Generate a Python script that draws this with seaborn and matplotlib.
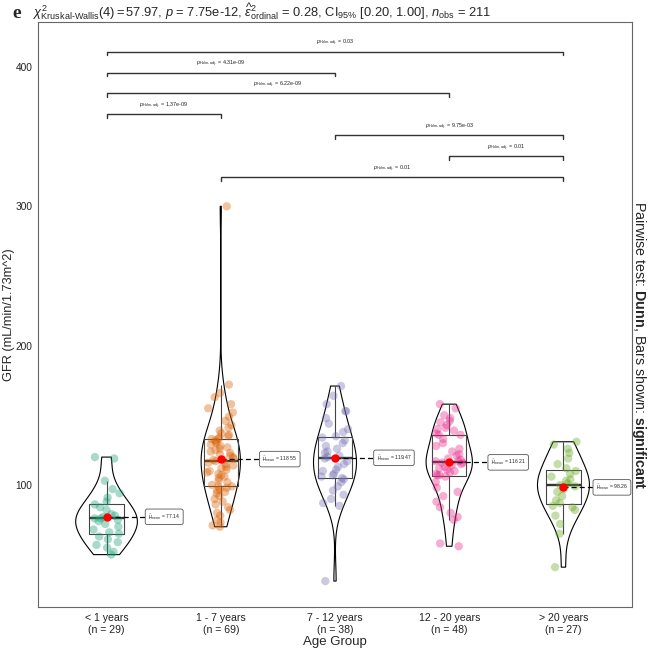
import numpy as np
import pandas as pd
import matplotlib
matplotlib.use("Agg")
import matplotlib.pyplot as plt
import seaborn as sns

# GFR values per age group
groups = ["< 1 years", "1 - 7 years", "7 - 12 years", "12 - 20 years", "> 20 years"]
gfr_lt1 = [120, 119, 103, 97, 94, 91, 88, 86, 84, 82, 79, 78, 77, 76, 76,
           75, 74, 72, 70, 68, 66, 65, 63, 61, 59, 57, 55, 52, 50]
gfr_1_7 = [70, 71, 73, 75, 78, 80, 82, 84, 86, 88, 90, 92, 94, 95, 96, 97, 98,
           99, 99, 100, 102, 103, 105, 106, 107, 108, 109, 110, 111, 112,
           113, 114, 115, 116, 117, 118, 118, 119, 120, 121, 122,
           123, 124, 125, 126, 127, 128, 129, 130, 131, 132,
           133, 133, 134, 135, 136, 137, 139, 141, 143, 146,
           149, 152, 155, 158, 163, 166, 172, 300]
gfr_7_12 = [31, 85, 87, 90, 93, 96, 99, 102, 104, 105, 106, 107, 108, 110, 111,
            113, 115, 117, 119, 120, 121, 123, 124, 126, 128, 130, 132, 134,
            135, 138, 140, 144, 148, 153, 153, 158, 164, 171]
gfr_12_20 = [56, 58, 75, 77, 80, 84, 88, 92, 95, 98,
             102, 106, 107, 107, 108, 109, 110, 111, 112, 113,
             114, 115, 116, 116, 117, 117, 118, 119, 121, 122,
             124, 126, 128, 130, 133, 136, 136, 137, 139, 140,
             141, 143, 145, 146, 148, 150, 155, 158]
gfr_gt20 = [41, 65, 72, 78, 82, 84, 85, 87, 89, 92, 95, 97, 99, 100, 101, 103,
            104, 106, 108, 110, 112, 115, 119, 123, 126, 129, 131]

# significant Dunn comparisons, bottom bracket first
pairs = [(1, 4), (3, 4), (2, 4), (0, 1), (0, 3), (0, 2), (0, 4)]
p_adj = ["0.01", "0.01", "9.75e-03", "1.37e-09", "6.22e-09", "4.31e-09", "0.03"]

title = (r"$\chi^2_{\mathrm{Kruskal\text{-}Wallis}}(4) = 57.97$, $\mathit{p}$ = 7.75e-12, "
         r"$\widehat{\epsilon}^2_{\mathrm{ordinal}}$ = 0.28, CI$_{95\%}$ [0.20, 1.00], "
         r"$\mathit{n}_{\mathrm{obs}}$ = 211")

all_vals = [gfr_lt1, gfr_1_7, gfr_7_12, gfr_12_20, gfr_gt20]
df = pd.DataFrame({
    "group": np.repeat(groups, [len(v) for v in all_vals]),
    "gfr": np.concatenate(all_vals),
})

sns.set_style("white")
plt.rcParams["font.family"] = ["Liberation Sans", "DejaVu Sans"]
plt.rcParams["mathtext.fontset"] = "custom"
plt.rcParams["mathtext.rm"] = "Liberation Sans"
plt.rcParams["mathtext.it"] = "Liberation Sans:italic"
plt.rcParams["mathtext.bf"] = "Liberation Sans:bold"
plt.rcParams["mathtext.sf"] = "Liberation Sans"

fig = plt.figure(figsize=(6.49, 6.49), dpi=100)
ax = fig.add_axes([38 / 649, 1 - 607 / 649, 594 / 649, 585 / 649])

sns.violinplot(data=df, x="group", y="gfr", order=groups, fill=False, inner=None,
               cut=0, width=0.54, color="black", linewidth=0.8,
               bw_method="silverman", density_norm="area", ax=ax)
sns.boxplot(data=df, x="group", y="gfr", order=groups, width=0.3, fill=False,
            color="#444444", showfliers=False, showcaps=False, linewidth=0.8,
            medianprops={"linewidth": 1.7, "color": "#333333"}, ax=ax)
np.random.seed(7)
sns.stripplot(data=df, x="group", y="gfr", order=groups, hue="group",
              hue_order=groups, palette="Dark2", jitter=0.12, size=6,
              alpha=0.38, linewidth=0, legend=False, ax=ax)
sns.pointplot(data=df, x="group", y="gfr", order=groups, estimator="mean",
              errorbar=None, color="red", linestyle="none", markersize=4,
              ax=ax, zorder=10)

# mean labels (the last one is pushed left to stay inside the panel)
means = df.groupby("group")["gfr"].mean().reindex(groups)
for i, m in enumerate(means):
    off = 0.34 if i < len(groups) - 1 else 0.26
    ax.plot([i, i + off], [m, m], ls=(0, (4, 2.5)), color="black", lw=0.9, zorder=9)
    ax.text(i + off + 0.025, m, r"$\widehat{\mu}_{\mathrm{mean}}$ = " + f"{m:.2f}",
            ha="left", va="center", fontsize=3.6, color="#222222", zorder=11,
            bbox=dict(boxstyle="round,pad=0.6,rounding_size=0.4", fc="white",
                      ec="#555555", lw=0.6))

# significance brackets
for k, ((a, b), lab) in enumerate(zip(pairs, p_adj)):
    y = 321 + 15 * k
    ax.plot([a, a, b, b], [y - 2.5, y, y, y - 2.5], color="#333333", lw=1.0)
    ax.text((a + b) / 2, y + 6, r"$\mathit{p}_{\mathrm{Holm\text{-}adj.}}$ = " + lab,
            ha="center", va="center", fontsize=3.9, color="#222222")

ax.set_xlim(-0.6, 4.6)
ax.set_ylim(12.4, 432.3)
ax.set_yticks([100, 200, 300, 400])
ax.set_xticks(range(len(groups)))
ax.set_xticklabels([f"{g}\n(n = {len(v)})" for g, v in zip(groups, all_vals)])
ax.tick_params(axis="both", length=3, width=0.6, color="#444444",
               labelsize=7.6, labelcolor="#222222", pad=1.5)
ax.tick_params(axis="y", labelsize=7.3, pad=1)
ax.set_xlabel("Age Group", fontsize=9.5, labelpad=1)
ax.set_ylabel("GFR (mL/min/1.73m^2)", fontsize=9.2)
ax.yaxis.set_label_coords(-23 / 594, 0.5)
for s in ax.spines.values():
    s.set_color("#666666")
    s.set_linewidth(0.8)

fig.text(33 / 649, 1 - 12 / 649, title, ha="left", va="center", fontsize=9.3)
fig.text(12 / 649, 1 - 13 / 649, "e", family="Liberation Serif", weight="bold",
         fontsize=14, ha="left", va="center")
fig.text(639 / 649, 1 - 345 / 649,
         r"Pairwise test: $\mathbf{Dunn}$, Bars shown: $\mathbf{significant}$",
         rotation=270, ha="center", va="center", fontsize=10.3)

fig.savefig("out.png", dpi=100)
